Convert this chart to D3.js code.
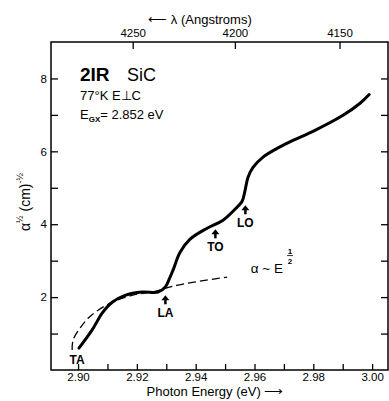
<!DOCTYPE html>
<html lang="en">
<head>
<meta charset="utf-8">
<script src="https://d3js.org/d3.v7.min.js"></script>
<style>
    body { margin: 0; background: white; }
    svg { display: block; font-family: "Liberation Sans", Arial, sans-serif; }
    .frame { fill: none; stroke: black; stroke-width: 1.5; }
    .axis path.domain { display: none; }
    .axis line { stroke: black; stroke-width: 1.3; }
    .axis text { font-size: 11.5px; fill: black; font-family: "Liberation Sans", Arial, sans-serif; }
</style>
</head>
<body>
<svg width="389" height="401"></svg>
<script>
// solid curve: alpha^1/2 vs photon energy
const solidEnergy = [2.9003, 2.9048, 2.9082, 2.9116, 2.9160, 2.9218, 2.9272, 2.9296, 2.9313, 2.9323,
                     2.9347, 2.9381, 2.9439, 2.9493, 2.9541, 2.9558, 2.9568, 2.9578, 2.9595, 2.9629,
                     2.9677, 2.9731, 2.9799, 2.9901, 2.9959, 2.9990];
const solidValue  = [0.60, 1.10, 1.56, 1.86, 2.05, 2.14, 2.14, 2.27, 2.55, 2.74,
                     3.23, 3.59, 3.89, 4.11, 4.47, 4.63, 4.93, 5.29, 5.56, 5.84,
                     6.08, 6.30, 6.55, 6.99, 7.32, 7.56];

// dashed curve: alpha ~ E^1/2 fit
const dashEnergy = [2.8980, 2.8983, 2.9007, 2.9034, 2.9068, 2.9116, 2.9184, 2.9262, 2.9340, 2.9507];
const dashValue  = [0.55, 0.82, 1.15, 1.42, 1.64, 1.86, 2.05, 2.16, 2.33, 2.55];

// axis ticks
const energyTicks = [2.90, 2.92, 2.94, 2.96, 2.98, 3.00];
const energyMinor = [2.91, 2.93, 2.95, 2.97, 2.99];
const valueTicks = [2, 4, 6, 8];
const valueMinor = [1, 3, 5, 7];
const lambdaTicks = [4250, 4200, 4150];

// phonon markers (energy, value at arrow tip)
const phononNames  = ['LA', 'TO', 'LO'];
const phononEnergy = [2.9297, 2.9467, 2.9569];
const phononValue  = [2.05, 3.86, 4.52];

const margin = {top: 42, right: 1, bottom: 31, left: 51};
const width = 389 - margin.left - margin.right;
const height = 401 - margin.top - margin.bottom;

const svg = d3.select('svg');
const g = svg.append('g').attr('transform', `translate(${margin.left},${margin.top})`);

const x = d3.scaleLinear().domain([2.8908, 3.0054]).range([0, width]);
const y = d3.scaleLinear().domain([0, 9]).range([height, 0]);
const hc = 12404; // eV * Angstrom, as used for the top scale

// frame
g.append('rect').attr('class', 'frame')
    .attr('x', 0).attr('y', 0).attr('width', width).attr('height', height);

// bottom axis
g.append('g').attr('class', 'axis')
    .attr('transform', `translate(0,${height})`)
    .call(d3.axisBottom(x).tickValues(energyTicks).tickSize(-6).tickPadding(3)
        .tickFormat(d3.format('.2f')));
g.append('g').attr('class', 'axis')
    .attr('transform', `translate(0,${height})`)
    .call(d3.axisBottom(x).tickValues(energyMinor).tickSize(-6).tickFormat(''));

// left axis
g.append('g').attr('class', 'axis')
    .call(d3.axisLeft(y).tickValues(valueTicks).tickSize(-7).tickPadding(4));
g.append('g').attr('class', 'axis')
    .call(d3.axisLeft(y).tickValues(valueMinor).tickSize(-7).tickFormat(''));

// right axis
g.append('g').attr('class', 'axis')
    .attr('transform', `translate(${width},0)`)
    .call(d3.axisRight(y).tickValues(valueTicks.concat(valueMinor)).tickSize(-7).tickFormat(''));

// top axis (wavelength)
g.append('g').attr('class', 'axis')
    .call(d3.axisTop(x).tickValues(lambdaTicks.map(l => hc / l)).tickSize(-7).tickPadding(5)
        .tickFormat((d, i) => lambdaTicks[i]));

// curves
const line = d3.line()
    .x(d => x(d[0]))
    .y(d => y(d[1]))
    .curve(d3.curveCatmullRom);

g.append('path')
    .datum(dashEnergy.map((e, i) => [e, dashValue[i]]))
    .attr('d', line)
    .attr('fill', 'none')
    .attr('stroke', 'black')
    .attr('stroke-width', 1.3)
    .attr('stroke-dasharray', '8,4');

g.append('path')
    .datum(solidEnergy.map((e, i) => [e, solidValue[i]]))
    .attr('d', line)
    .attr('fill', 'none')
    .attr('stroke', 'black')
    .attr('stroke-width', 3)
    .attr('stroke-linecap', 'round');

// phonon arrows + labels
phononNames.forEach((name, i) => {
    const px = x(phononEnergy[i]);
    const py = y(phononValue[i]);
    g.append('path')
        .attr('d', `M${px},${py} L${px - 4},${py + 5} L${px + 4},${py + 5} Z`)
        .attr('fill', 'black');
    g.append('line')
        .attr('x1', px).attr('x2', px)
        .attr('y1', py + 4).attr('y2', py + 9)
        .attr('stroke', 'black').attr('stroke-width', 2.5);
    g.append('text')
        .attr('x', px).attr('y', py + 22)
        .attr('text-anchor', 'middle')
        .attr('font-weight', 'bold')
        .attr('font-size', 12)
        .text(name);
});

// TA label at curve start
g.append('text')
    .attr('x', x(2.8997)).attr('y', y(0.17))
    .attr('text-anchor', 'middle')
    .attr('font-weight', 'bold')
    .attr('font-size', 12)
    .text('TA');

// alpha ~ E^1/2 label
g.append('text')
    .attr('x', x(2.9697)).attr('y', y(2.66))
    .attr('text-anchor', 'end')
    .attr('font-size', 13.5)
    .text('α ~ E');
const fr = g.append('g')
    .attr('transform', `translate(${x(2.9721)},${y(3.14)})`);
fr.append('text').attr('x', 0).attr('y', -2).attr('text-anchor', 'middle')
    .attr('font-size', 8).attr('font-weight', 'bold').text('1');
fr.append('line').attr('x1', -3).attr('x2', 3).attr('y1', 0).attr('y2', 0)
    .attr('stroke', 'black').attr('stroke-width', 0.8);
fr.append('text').attr('x', 0).attr('y', 8).attr('text-anchor', 'middle')
    .attr('font-size', 8).attr('font-weight', 'bold').text('2');

// sample text block
const info = g.append('g').attr('transform', 'translate(29,0)');
info.append('text').attr('x', 0).attr('y', 39)
    .attr('font-size', 19).attr('font-weight', 'bold').text('2IR');
info.append('text').attr('x', 47).attr('y', 39)
    .attr('font-size', 18).text('SiC');
info.append('text').attr('x', 0).attr('y', 58)
    .attr('font-size', 13).text('77°K  E⊥C');
const eg = info.append('text').attr('x', 0).attr('y', 77).attr('font-size', 13);
eg.append('tspan').text('E');
eg.append('tspan').attr('font-size', 8).attr('font-weight', 'bold').attr('dy', 3).text('GX');
eg.append('tspan').attr('dy', -3).text('= 2.852 eV');

// axis titles
svg.append('text')
    .attr('x', 215).attr('y', 396)
    .attr('text-anchor', 'middle')
    .attr('font-size', 13)
    .text('Photon Energy (eV) ⟶');

svg.append('text')
    .attr('x', 200).attr('y', 24)
    .attr('text-anchor', 'middle')
    .attr('font-size', 13)
    .text('⟵ λ (Angstroms)');

const yl = svg.append('text')
    .attr('transform', 'translate(30,202) rotate(-90)')
    .attr('text-anchor', 'middle')
    .attr('font-size', 14);
yl.append('tspan').text('α');
yl.append('tspan').attr('font-size', 9).attr('dy', -7).text('½');
yl.append('tspan').attr('dy', 7).text(' (cm)');
yl.append('tspan').attr('font-size', 9).attr('dy', -7).text('-½');
</script>
</body>
</html>
